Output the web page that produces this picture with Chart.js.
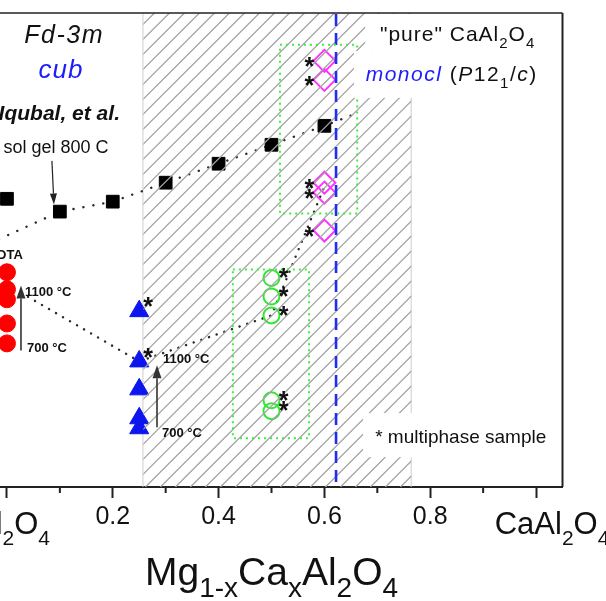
<!DOCTYPE html>
<html>
<head>
<meta charset="utf-8">
<script src="https://cdn.jsdelivr.net/npm/chart.js@4.4.1/dist/chart.umd.min.js"></script>
<style>
  html, body { margin: 0; padding: 0; background: #fff; overflow: hidden; width: 606px; height: 601px; }
  #wrap { position: absolute; left: -40px; top: 0; width: 660px; height: 601px; }
</style>
</head>
<body>
<div id="wrap"><canvas id="c"></canvas></div>
<script>
const FONT = '"Liberation Sans", Arial, Helvetica, sans-serif';

// Composition axis of Mg(1-x)Ca(x)Al2O4; the ordinate is a free, unlabelled scale
const xMin = -0.05, xMax = 1.05;
const yMin = 0, yMax = 100;

// sol-gel 800 C series (Iqubal et al.)
const solGelX = [0, 0.1, 0.2, 0.3, 0.4, 0.5, 0.6];
const solGelY = [60.8, 58.1, 60.2, 64.2, 68.2, 72.2, 76.2];

// dotted guide through the sol-gel series
const solGelGuideX = [-0.05, 0.1, 0.2, 0.3, 0.4, 0.5, 0.6, 0.658];
const solGelGuideY = [50.5, 58.1, 60.2, 64.2, 68.2, 72.2, 76.2, 78.7];

// DTA samples at x = 0 (700 -> 1100 C)
const dtaX = [0, 0, 0, 0, 0];
const dtaY = [45.3, 41.7, 39.6, 34.5, 30.3];

// x = 0.25 samples (700 -> 1100 C)
const quarterX = [0.25, 0.25, 0.25, 0.25, 0.25];
const quarterY = [37.1, 26.5, 20.6, 14.5, 12.4];
const quarterMulti = [true, true, false, false, false];

// cubic samples at x = 0.5
const cubicX = [0.5, 0.5, 0.5, 0.5, 0.5];
const cubicY = [44.1, 40.2, 36.2, 18.3, 16.0];
const cubicMulti = [true, true, true, true, true];

// monoclinic samples at x = 0.6
const monoX = [0.6, 0.6, 0.6, 0.6, 0.6];
const monoY = [89.9, 85.9, 64.2, 62.1, 54.1];
const monoMulti = [true, true, true, true, true];

// dotted path linking the 1100 C samples
const pathX = [0, 0.25, 0.5, 0.6];
const pathY = [42.7, 26.5, 36.2, 63.4];

// hatched composition range and the "pure" CaAl2O4 limit
const hatchFrom = 0.257, hatchTo = 0.764;
const limitX = 0.622;

// dotted group boxes, [from, to]
const upperBoxX = [0.516, 0.662], upperBoxY = [57.7, 93.3];
const lowerBoxX = [0.427, 0.571], lowerBoxY = [10.3, 45.9];

// axis ticks and labels
const tickPositions = [0, 0.1, 0.2, 0.3, 0.4, 0.5, 0.6, 0.7, 0.8, 0.9, 1.0];
const majorTicks = [0, 0.2, 0.4, 0.6, 0.8, 1.0];
const numericTicks = [0.2, 0.4, 0.6, 0.8];
const endMemberX = [0, 1];
const endMemberLabels = ['MgAl_2O_4', 'CaAl_2O_4'];
const axisTitle = 'Mg_{1-x}Ca_xAl_2O_4';

const pts = (xs, ys) => xs.map((v, i) => ({ x: v, y: ys[i] }));
const tenths = v => Math.round(v * 10);

function parseFormula(s) {
  const runs = []; let buf = ''; let i = 0;
  while (i < s.length) {
    if (s[i] === '_') {
      if (buf) { runs.push({ t: buf }); buf = ''; }
      if (s[i + 1] === '{') { const j = s.indexOf('}', i); runs.push({ t: s.slice(i + 2, j), sub: true }); i = j + 1; }
      else { runs.push({ t: s[i + 1], sub: true }); i += 2; }
    } else { buf += s[i]; i++; }
  }
  if (buf) runs.push({ t: buf });
  return runs;
}

function fontOf(r, size, o) {
  const it = r.italic !== undefined ? r.italic : o.italic;
  const bd = r.bold !== undefined ? r.bold : o.bold;
  return (it ? 'italic ' : '') + (bd ? 'bold ' : '') + size + 'px ' + FONT;
}

function drawRuns(ctx, runs, x, y, o) {
  const size = o.size, subSize = o.subSize || Math.round(size * 0.7), subDy = o.subDy || size * 0.3;
  ctx.save();
  ctx.textBaseline = 'alphabetic';
  ctx.textAlign = 'left';
  ctx.letterSpacing = (o.spacing || 0) + 'px';
  const items = runs.map(r => {
    const f = fontOf(r, r.sub ? subSize : size, o);
    ctx.font = f;
    return { r, f, w: ctx.measureText(r.t).width };
  });
  const total = items.reduce((a, b) => a + b.w, 0);
  let cx = o.align === 'center' ? x - total / 2 : o.align === 'right' ? x - total : x;
  for (const it of items) {
    ctx.font = it.f;
    ctx.fillStyle = it.r.color || o.color || '#111';
    ctx.fillText(it.r.t, cx, y + (it.r.sub ? subDy : 0));
    cx += it.w;
  }
  ctx.restore();
}

function arrow(ctx, x1, y1, x2, y2, color, width, headLen, headW) {
  const ang = Math.atan2(y2 - y1, x2 - x1);
  const bx = x2 - Math.cos(ang) * headLen, by = y2 - Math.sin(ang) * headLen;
  ctx.save();
  ctx.strokeStyle = color; ctx.fillStyle = color; ctx.lineWidth = width;
  ctx.beginPath(); ctx.moveTo(x1, y1); ctx.lineTo(bx, by); ctx.stroke();
  ctx.beginPath(); ctx.moveTo(x2, y2);
  ctx.lineTo(bx + Math.sin(ang) * headW, by - Math.cos(ang) * headW);
  ctx.lineTo(bx - Math.sin(ang) * headW, by + Math.cos(ang) * headW);
  ctx.closePath(); ctx.fill();
  ctx.restore();
}

// text annotations, placed in data units
const notes = [
  { x: 0.108, y: 93.7, runs: [{ t: 'Fd-3m' }], size: 25, italic: true, align: 'center', spacing: 1.5 },
  { x: 0.102, y: 86.3, runs: [{ t: 'cub' }], size: 26, italic: true, align: 'center', color: '#1c1cff', spacing: 1 },
  { x: 0.2136, y: 77.5, runs: [{ t: 'Iqubal, et al.' }], size: 21, italic: true, bold: true, align: 'right' },
  { x: 0.0926, y: 70.5, runs: [{ t: 'sol gel 800 C' }], size: 18, align: 'center' },
  { x: 0.030, y: 48.2, runs: [{ t: 'DTA' }], size: 13, bold: true, align: 'right' },
  { x: 0.034, y: 40.2, runs: [{ t: '1100 °C' }], size: 13, bold: true, align: 'left' },
  { x: 0.038, y: 28.4, runs: [{ t: '700 °C' }], size: 13, bold: true, align: 'left' },
  { x: 0.295, y: 26.1, runs: [{ t: '1100 °C' }], size: 13, bold: true, align: 'left' },
  { x: 0.293, y: 10.5, runs: [{ t: '700 °C' }], size: 13, bold: true, align: 'left' },
  { x: 0.705, y: 94.1, runs: parseFormula('"pure" CaAl_2O_4'), size: 21, align: 'left', spacing: 1, subDy: 7 },
  { x: 0.678, y: 85.7, runs: [
      { t: 'monocl', italic: true, color: '#1c1cff' }, { t: ' (' }, { t: 'P', italic: true },
      { t: '12' }, { t: '1', sub: true }, { t: '/' }, { t: 'c', italic: true }, { t: ')' }
    ], size: 21, align: 'left', spacing: 1.5, subDy: 7 },
  { x: 0.696, y: 9.3, runs: [{ t: '* multiphase sample' }], size: 19, align: 'left' }
];

// white label backgrounds over the hatch, [x0, x1, y0, y1] in data units
const labelPanels = [
  [0.677, 1.017, 92.0, 99.8],
  [0.656, 1.017, 82.1, 92.0],
  [0.673, 1.017, 6.3, 15.6]
];

// arrows in data units: [x1, y1, x2, y2]
const arrows = [
  { p: [0.085, 68.8, 0.0888, 59.6], color: '#222', w: 1.2, head: 11, hw: 3.5 },
  { p: [0.0265, 28.8, 0.0265, 42.5], color: '#333', w: 1.6, head: 13, hw: 4.5 },
  { p: [0.2836, 12.6, 0.2836, 25.7], color: '#333', w: 1.6, head: 13, hw: 4.5 }
];

const decor = {
  id: 'decor',
  beforeDatasetsDraw(chart) {
    const { ctx, chartArea: a, scales: { x } } = chart;
    const hx0 = x.getPixelForValue(hatchFrom), hx1 = x.getPixelForValue(hatchTo);
    // edges of the hatched range
    ctx.save();
    ctx.strokeStyle = '#cdcdcd'; ctx.lineWidth = 1;
    ctx.beginPath();
    ctx.moveTo(hx0, a.top); ctx.lineTo(hx0, a.bottom);
    ctx.moveTo(hx1, a.top); ctx.lineTo(hx1, a.bottom);
    ctx.stroke();
    ctx.restore();
  },
  afterDatasetsDraw(chart) {
    const { ctx, chartArea: a, scales: { x, y } } = chart;
    const hx0 = x.getPixelForValue(hatchFrom) + 0.5, hx1 = x.getPixelForValue(hatchTo);
    const h = a.bottom - a.top;
    // hatch, laid over the markers
    ctx.save();
    ctx.beginPath(); ctx.rect(hx0, a.top, hx1 - hx0, h); ctx.clip();
    ctx.strokeStyle = '#a3a3a3'; ctx.lineWidth = 1.3;
    ctx.beginPath();
    for (let s = hx0 - h - 4; s < hx1 + 20; s += 15) { ctx.moveTo(s, a.bottom); ctx.lineTo(s + h, a.top); }
    ctx.stroke();
    ctx.restore();
    // limit line
    const lx = x.getPixelForValue(limitX);
    ctx.save();
    ctx.strokeStyle = '#1f2ef2'; ctx.lineWidth = 2.6; ctx.setLineDash([12, 7]);
    ctx.beginPath(); ctx.moveTo(lx, a.top + 1); ctx.lineTo(lx, a.bottom); ctx.stroke();
    ctx.restore();
    // dotted group boxes
    ctx.save();
    ctx.strokeStyle = '#3bef3b'; ctx.lineWidth = 2; ctx.setLineDash([2, 4]);
    for (const [bx, by] of [[upperBoxX, upperBoxY], [lowerBoxX, lowerBoxY]]) {
      const x0 = x.getPixelForValue(bx[0]), x1 = x.getPixelForValue(bx[1]);
      const y0 = y.getPixelForValue(by[1]), y1 = y.getPixelForValue(by[0]);
      ctx.strokeRect(x0, y0, x1 - x0, y1 - y0);
    }
    ctx.restore();
    // label panels
    ctx.save();
    ctx.fillStyle = '#fff';
    for (const p of labelPanels) {
      const x0 = x.getPixelForValue(p[0]), x1 = x.getPixelForValue(p[1]);
      const y0 = y.getPixelForValue(p[3]), y1 = y.getPixelForValue(p[2]);
      ctx.fillRect(x0, y0, x1 - x0, y1 - y0);
    }
    ctx.restore();
    // multiphase markers
    const star = (xs, ys, flags, dx, dy) => {
      ctx.save();
      ctx.font = 'bold 25px ' + FONT;
      ctx.fillStyle = '#111';
      ctx.textAlign = 'center';
      ctx.textBaseline = 'alphabetic';
      xs.forEach((v, i) => {
        if (!flags[i]) return;
        const px = x.getPixelForValue(v) + dx, py = y.getPixelForValue(ys[i]) + dy;
        ctx.fillText('*', px, py + 0.57 * 25);
      });
      ctx.restore();
    };
    star(monoX, monoY, monoMulti, -15, 0);
    star(cubicX, cubicY, cubicMulti, 12, -6);
    star(quarterX, quarterY, quarterMulti, 9, -10);
    // arrows
    for (const ar of arrows) {
      const [x1, y1, x2, y2] = ar.p;
      arrow(ctx, x.getPixelForValue(x1), y.getPixelForValue(y1), x.getPixelForValue(x2), y.getPixelForValue(y2), ar.color, ar.w, ar.head, ar.hw);
    }
    // annotations
    for (const n of notes) {
      drawRuns(ctx, n.runs, x.getPixelForValue(n.x), y.getPixelForValue(n.y), n);
    }
  },
  afterDraw(chart) {
    const { ctx, chartArea: a, scales: { x } } = chart;
    // frame
    ctx.save();
    ctx.strokeStyle = '#222';
    ctx.lineWidth = 1.6;
    ctx.beginPath(); ctx.moveTo(a.left, a.top); ctx.lineTo(a.right, a.top); ctx.stroke();
    ctx.lineWidth = 2;
    ctx.beginPath(); ctx.moveTo(a.right, a.top); ctx.lineTo(a.right, a.bottom); ctx.stroke();
    // minor ticks
    ctx.beginPath();
    tickPositions.forEach(v => {
      if (majorTicks.some(m => tenths(m) === tenths(v))) return;
      const px = x.getPixelForValue(v);
      ctx.moveTo(px, a.bottom); ctx.lineTo(px, a.bottom + 6);
    });
    ctx.stroke();
    ctx.restore();
    // end-member tick labels
    endMemberX.forEach((v, i) => {
      const px = x.getPixelForValue(v) + (i === 0 ? -16 : 16);
      drawRuns(ctx, parseFormula(endMemberLabels[i]), px, a.bottom + 47, { size: 31, subSize: 21, subDy: 11, align: 'center' });
    });
    // axis title
    drawRuns(ctx, parseFormula(axisTitle), (a.left + a.right) / 2, a.bottom + 98, { size: 39, subSize: 28, subDy: 12, align: 'center' });
  }
};

const lineStyle = { showLine: true, pointRadius: 0, borderColor: '#2a2a2a', borderWidth: 2.4, borderCapStyle: 'round', fill: false, order: 10 };

new Chart(document.getElementById('c'), {
  type: 'scatter',
  data: {
    datasets: [
      Object.assign({ label: 'sol-gel guide', data: pts(solGelGuideX, solGelGuideY), borderDash: [0.1, 10] }, lineStyle),
      Object.assign({ label: '1100 C path', data: pts(pathX, pathY), borderDash: [0.1, 8] }, lineStyle),
      { label: 'sol gel 800 C', data: pts(solGelX, solGelY), pointStyle: 'rect', pointRadius: 9, backgroundColor: '#000', borderColor: '#000', borderWidth: 1, order: 1 },
      { label: 'DTA', data: pts(dtaX, dtaY), pointStyle: 'circle', pointRadius: 8.5, backgroundColor: '#ff0000', borderColor: '#ff0000', borderWidth: 1, order: 1 },
      { label: 'x = 0.25', data: pts(quarterX, quarterY), pointStyle: 'triangle', pointRadius: 11, backgroundColor: '#0d16ee', borderColor: '#0d16ee', borderWidth: 1, order: 1 },
      { label: 'cub', data: pts(cubicX, cubicY), pointStyle: 'circle', pointRadius: 8, backgroundColor: 'rgba(0,0,0,0)', borderColor: '#2fe82f', borderWidth: 2, order: 1 },
      { label: 'monocl', data: pts(monoX, monoY), pointStyle: 'rectRot', pointRadius: 11, backgroundColor: 'rgba(0,0,0,0)', borderColor: '#ff33ff', borderWidth: 2, order: 1 }
    ]
  },
  options: {
    responsive: true,
    maintainAspectRatio: false,
    animation: false,
    layout: { padding: { top: 12, left: 20.5, right: 57.5, bottom: 0 } },
    plugins: { legend: { display: false }, tooltip: { enabled: false } },
    scales: {
      x: {
        type: 'linear', min: xMin, max: xMax,
        border: { display: true, color: '#222', width: 2 },
        grid: {
          drawOnChartArea: false, drawTicks: true, tickLength: 11, tickWidth: 2,
          tickColor: c => (majorTicks.some(m => tenths(m) === tenths(c.tick.value)) ? '#222' : 'rgba(0,0,0,0)')
        },
        ticks: {
          autoSkip: false, maxRotation: 0, padding: 4,
          color: '#111', font: { family: FONT, size: 25 },
          callback: v => {
            const k = tenths(v);
            return numericTicks.some(t => tenths(t) === k) ? (k / 10).toFixed(1) : '';
          }
        },
        afterBuildTicks: s => { s.ticks = tickPositions.map(v => ({ value: v })); },
        afterFit: s => { s.height = 114; }
      },
      y: { type: 'linear', min: yMin, max: yMax, display: false }
    }
  },
  plugins: [decor]
});
</script>
</body>
</html>
